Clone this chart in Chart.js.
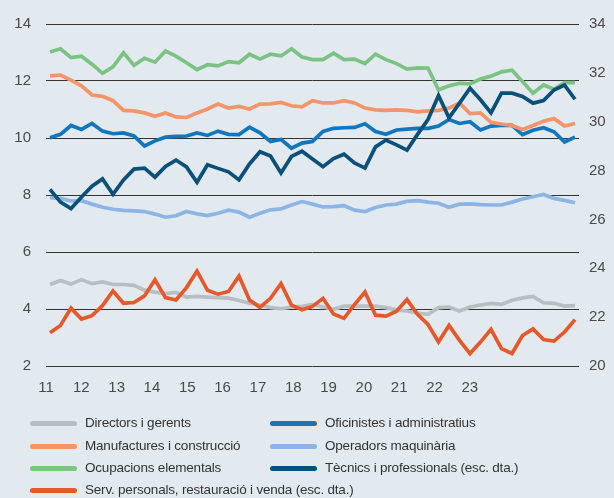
<!DOCTYPE html>
<html>
<head>
<meta charset="utf-8">
<script src="https://cdn.jsdelivr.net/npm/chart.js@4.4.1/dist/chart.umd.min.js"></script>
<style>
html,body{margin:0;padding:0;background:#e2eaf0;}
#wrap{position:relative;width:614px;height:498px;overflow:hidden;}
#c{position:absolute;left:0;top:0;}
#legend{position:absolute;left:0;top:0;width:614px;height:498px;pointer-events:none;
  font-family:"Liberation Sans",Arial,sans-serif;font-size:13.5px;letter-spacing:-0.2px;color:#333;}
.item{position:absolute;height:20px;line-height:20px;display:flex;align-items:center;white-space:nowrap;}
.sw{width:47px;height:5px;border-radius:3px;margin-right:8px;flex:none;}
</style>
</head>
<body>
<div id="wrap">
<canvas id="c" width="614" height="498"></canvas>
<div id="legend"></div>
</div>
<script>
// Quarterly categories (2011 T1 – 2023 T3)
const quarters = [
 '2011T1','2011T2','2011T3','2011T4','2012T1','2012T2','2012T3','2012T4',
 '2013T1','2013T2','2013T3','2013T4','2014T1','2014T2','2014T3','2014T4',
 '2015T1','2015T2','2015T3','2015T4','2016T1','2016T2','2016T3','2016T4',
 '2017T1','2017T2','2017T3','2017T4','2018T1','2018T2','2018T3','2018T4',
 '2019T1','2019T2','2019T3','2019T4','2020T1','2020T2','2020T3','2020T4',
 '2021T1','2021T2','2021T3','2021T4','2022T1','2022T2','2022T3','2022T4',
 '2023T1','2023T2','2023T3'];

const yearTicks = ['11','12','13','14','15','16','17','18','19','20','21','22','23'];
const leftTicks = [2,4,6,8,10,12,14];
const rightTicks = [20,22,24,26,28,30,32,34];

// Left axis series
const directors = [4.86,5.00,4.88,5.03,4.89,4.95,4.86,4.86,4.83,4.66,4.59,4.54,4.58,4.42,4.44,4.42,4.40,4.38,4.30,4.20,4.14,4.05,4.01,4.07,4.09,4.16,4.07,3.99,4.10,4.10,4.10,4.10,4.05,3.97,3.93,3.86,3.81,4.05,4.07,3.93,4.07,4.14,4.20,4.16,4.31,4.39,4.44,4.22,4.20,4.10,4.12];
const oficinistes = [10.01,10.13,10.44,10.30,10.51,10.24,10.15,10.18,10.07,9.72,9.90,10.03,10.06,10.07,10.18,10.09,10.24,10.13,10.12,10.38,10.18,9.88,9.95,9.64,9.82,9.88,10.23,10.34,10.36,10.37,10.50,10.23,10.13,10.28,10.31,10.34,10.34,10.42,10.65,10.51,10.57,10.28,10.42,10.44,10.44,10.12,10.27,10.36,10.22,9.86,10.03];
const manufactures = [12.18,12.21,12.03,11.83,11.51,11.46,11.31,10.97,10.95,10.88,10.76,10.88,10.74,10.72,10.88,11.02,11.19,11.05,11.11,11.02,11.19,11.20,11.25,11.13,11.09,11.31,11.23,11.23,11.31,11.23,11.05,10.99,10.97,10.99,10.97,10.92,10.95,10.97,11.05,11.23,10.86,10.88,10.55,10.49,10.44,10.30,10.44,10.59,10.68,10.42,10.51];
const operadors = [7.91,7.88,7.79,7.80,7.68,7.57,7.50,7.46,7.44,7.42,7.33,7.22,7.27,7.42,7.34,7.28,7.36,7.47,7.40,7.22,7.36,7.48,7.51,7.65,7.77,7.68,7.58,7.59,7.63,7.47,7.42,7.56,7.65,7.68,7.78,7.80,7.75,7.71,7.57,7.68,7.69,7.66,7.65,7.65,7.75,7.86,7.94,8.02,7.88,7.81,7.73];
const ocupacions = [13.02,13.13,12.82,12.87,12.59,12.27,12.50,12.99,12.55,12.80,12.66,13.05,12.87,12.64,12.40,12.57,12.53,12.68,12.64,12.94,12.77,12.94,12.88,13.13,12.84,12.75,12.75,12.98,12.75,12.77,12.61,12.94,12.75,12.61,12.42,12.46,12.45,11.69,11.83,11.92,11.90,12.07,12.17,12.32,12.38,11.98,11.57,11.86,11.71,11.94,11.94];
// Right axis series (esc. dta.)
const tecnics = [27.23,26.71,26.44,26.92,27.36,27.66,27.03,27.62,28.06,28.10,27.73,28.17,28.43,28.15,27.52,28.24,28.09,27.95,27.62,28.27,28.77,28.60,27.90,28.58,28.79,28.47,28.16,28.49,28.67,28.31,28.10,28.97,29.25,29.05,28.84,29.48,30.09,31.07,30.16,30.76,31.37,30.90,30.36,31.17,31.17,31.03,30.76,30.87,31.30,31.50,30.92];
const serveis = [21.36,21.66,22.37,21.92,22.06,22.47,23.07,22.57,22.60,22.87,23.53,22.80,22.70,23.21,23.88,23.10,22.94,23.05,23.68,22.70,22.40,22.77,23.37,22.49,22.30,22.44,22.77,22.13,21.95,22.51,23.03,22.08,22.04,22.24,22.72,22.12,21.70,20.98,21.66,21.05,20.51,20.98,21.50,20.71,20.51,21.25,21.52,21.08,21.02,21.39,21.90];

const seriesLabels = ['Directors i gerents','Oficinistes i administratius','Manufactures i construcció','Operadors maquinària','Ocupacions elementals','Tècnics i professionals (esc. dta.)','Serv. personals, restauració i venda (esc. dta.)'];
const seriesValues = [directors, oficinistes, manufactures, operadors, ocupacions, tecnics, serveis];
const seriesAxis = ['y','y','y','y','y','y2','y2'];
const seriesColors = ['#b8bfc3','#1176be','#f3956b','#8db4e2','#7cc383','#0c4f78','#e5582a'];

const tickFont = {family:'"Liberation Sans", Arial, sans-serif', size:15};
const tickColor = '#4a4a4a';

const datasets = seriesLabels.map((lab, k) => ({
  label: lab,
  data: seriesValues[k].map((v, i) => ({x: i, y: v})),
  xAxisID: 'x',
  yAxisID: seriesAxis[k],
  borderColor: seriesColors[k],
  backgroundColor: seriesColors[k],
  borderWidth: 3.7,
  pointRadius: 0,
  tension: 0,
  fill: false,
  order: 6 - k
}));

new Chart(document.getElementById('c'), {
  type: 'line',
  data: {labels: quarters, datasets},
  options: {
    responsive: false,
    animation: false,
    layout: {padding: {top: 18, left: 0, right: 0, bottom: 0}},
    plugins: {legend: {display: false}, tooltip: {enabled: false}},
    scales: {
      x: {type: 'linear', display: false, min: -0.38, max: quarters.length - 1 + 0.38},
      xl: {
        type: 'linear', position: 'bottom', min: 11, max: 26.09,
        grid: {display: false, drawTicks: false}, border: {display: false},
        ticks: {stepSize: 1, autoSkip: false, maxRotation: 0, padding: 13, font: tickFont, color: tickColor,
          callback: v => { const j = Math.round(v - 11); return (j >= 0 && j < yearTicks.length) ? yearTicks[j] : ''; }},
        afterFit: s => { s.height = 132; }
      },
      y: {
        position: 'left', min: leftTicks[0], max: leftTicks[leftTicks.length - 1],
        grid: {color: '#333333', lineWidth: 1, drawTicks: false}, border: {display: false},
        ticks: {stepSize: 2, padding: 15, font: tickFont, color: tickColor},
        afterBuildTicks: s => { s.ticks = leftTicks.map(v => ({value: v})); },
        afterFit: s => { s.width = 46; }
      },
      y2: {
        position: 'right', min: rightTicks[0], max: rightTicks[rightTicks.length - 1],
        grid: {display: false, drawTicks: false}, border: {display: false},
        ticks: {stepSize: 2, padding: 10, font: tickFont, color: tickColor},
        afterBuildTicks: s => { s.ticks = rightTicks.map(v => ({value: v})); },
        afterFit: s => { s.width = 35; }
      }
    }
  }
});

// HTML legend in two columns
const legendOrder = [[0,1],[2,3],[4,5],[6]];
const rowY = [423, 446, 468, 490];
const colX = [30, 270];
const leg = document.getElementById('legend');
legendOrder.forEach((row, r) => row.forEach((k, c) => {
  const it = document.createElement('div');
  it.className = 'item';
  it.style.left = colX[c] + 'px';
  it.style.top = (rowY[r] - 10) + 'px';
  const sw = document.createElement('span');
  sw.className = 'sw';
  sw.style.background = seriesColors[k];
  const tx = document.createElement('span');
  tx.textContent = seriesLabels[k];
  it.appendChild(sw); it.appendChild(tx);
  leg.appendChild(it);
}));
</script>
</body>
</html>
